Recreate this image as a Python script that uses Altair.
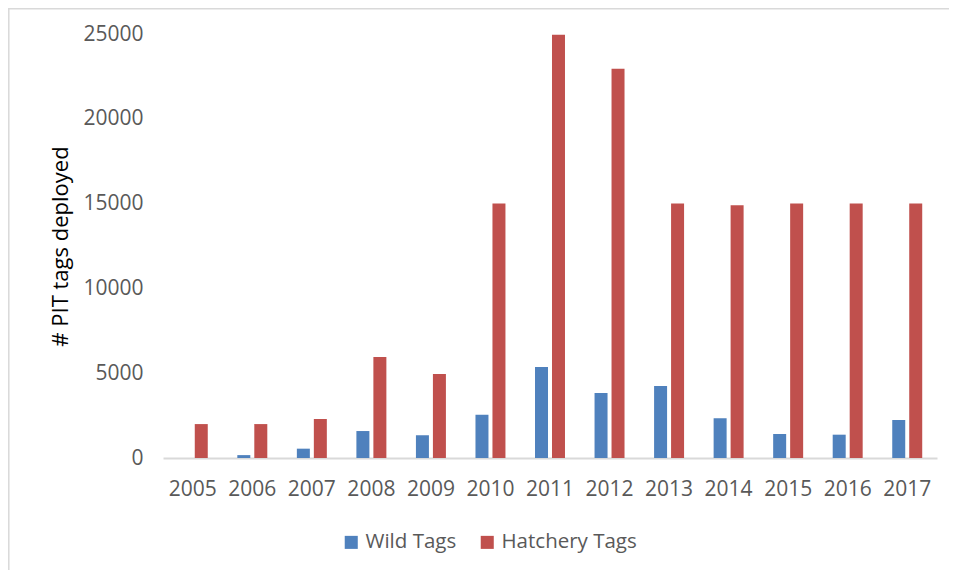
import altair as alt
import pandas as pd

years = ["2005", "2006", "2007", "2008", "2009", "2010", "2011", "2012", "2013", "2014", "2015", "2016", "2017"]
wild_tags = [0, 170, 550, 1590, 1340, 2550, 5370, 3830, 4250, 2340, 1415, 1375, 2240]
hatchery_tags = [2000, 2000, 2300, 5950, 4950, 15000, 24950, 22950, 15000, 14900, 15000, 15000, 15000]
series = ["Wild Tags", "Hatchery Tags"]
colors = ["#4F81BD", "#C0504D"]

rows = []
for i, y in enumerate(years):
    rows.append({"year": y, "series": series[0], "value": wild_tags[i]})
    rows.append({"year": y, "series": series[1], "value": hatchery_tags[i]})
df = pd.DataFrame(rows)

FONT = "Open Sans"

bars = alt.Chart(df).mark_bar().encode(
    x=alt.X("year:N", sort=years,
            scale=alt.Scale(paddingInner=0, paddingOuter=0),
            axis=alt.Axis(title=None, labelAngle=0, ticks=False, domainColor="#d9d9d9",
                          domainWidth=2, labelPadding=20, labelFontSize=21,
                          labelColor="#595959", labelFont=FONT)),
    xOffset=alt.XOffset("series:N", sort=series,
                        scale=alt.Scale(paddingInner=0.235, paddingOuter=0.87)),
    y=alt.Y("value:Q", scale=alt.Scale(domain=[0, 25000], nice=False),
            axis=alt.Axis(values=[0, 5000, 10000, 15000, 20000, 25000], format="d",
                          grid=False, domain=False, ticks=False, labelPadding=20,
                          labelFontSize=21, labelColor="#595959", labelFont=FONT,
                          title="# PIT tags deployed", titleFont=FONT, titleFontSize=22,
                          titleFontWeight="normal", titleColor="#000000",
                          titleX=-103, titleY=212, titleAngle=-90,
                          titleAlign="center", titleBaseline="middle")),
    color=alt.Color("series:N", sort=series,
                    scale=alt.Scale(domain=series, range=colors),
                    legend=alt.Legend(title=None, orient="none", direction="horizontal",
                                      legendX=178, legendY=498, symbolType="square",
                                      symbolSize=170, symbolStrokeWidth=0,
                                      labelFontSize=20.5, labelColor="#595959", labelFont=FONT,
                                      columnPadding=20, symbolOffset=0, labelOffset=4)),
)

one = pd.DataFrame({"a": [0]})
border_top = alt.Chart(one).mark_rule(color="#d9d9d9", strokeWidth=1.5, clip=False).encode(
    x=alt.value(-155), x2=alt.value(800), y=alt.value(-25.2)
)
border_left = alt.Chart(one).mark_rule(color="#d9d9d9", strokeWidth=1.5, clip=False).encode(
    x=alt.value(-154.2), y=alt.value(-26), y2=alt.value(570)
)

chart = alt.layer(border_top, border_left, bars).properties(
    width=774, height=424,
    autosize=alt.AutoSizeParams(type="none"),
    padding={"left": 155, "top": 26, "right": 12, "bottom": 112},
).configure_view(stroke=None)

chart.save("out.html", embed_options={"renderer": "svg", "actions": False})
